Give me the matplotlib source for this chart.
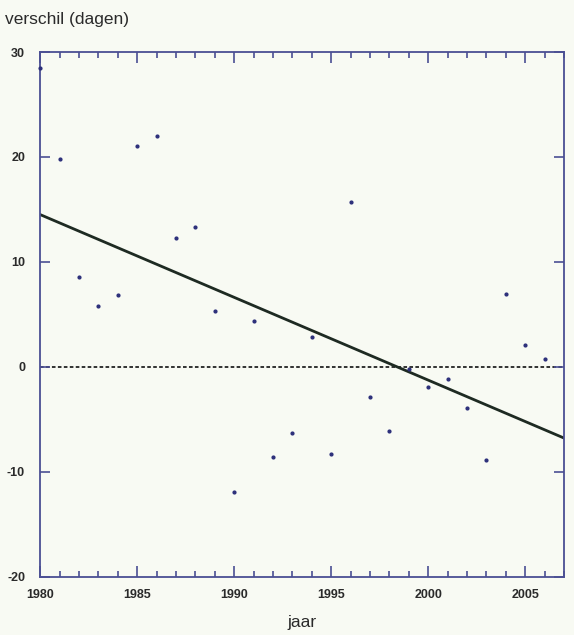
import matplotlib
matplotlib.use("Agg")
import matplotlib.pyplot as plt
from matplotlib.ticker import MultipleLocator

# jaar -> verschil (dagen)
years = [1980, 1981, 1982, 1983, 1984, 1985, 1986, 1987, 1988, 1989,
         1990, 1991, 1992, 1993, 1994, 1995, 1996, 1997, 1998, 1999,
         2000, 2001, 2002, 2003, 2004, 2005, 2006]
diff_days = [28.5, 19.8, 8.6, 5.8, 6.8, 21.0, 22.0, 12.3, 13.3, 5.3,
             -11.9, 4.4, -8.6, -6.3, 2.8, -8.3, 15.7, -2.9, -6.1, -0.2,
             -1.9, -1.2, -3.9, -8.9, 6.9, 2.1, 0.7]

# trendlijn (eindpunten)
trend_years = [1980, 2007]
trend_values = [14.5, -6.8]

bg = "#f8faf3"
axis_col = "#4b4f93"
text_col = "#2a2a2a"

plt.rcParams["font.family"] = ["Liberation Sans", "DejaVu Sans"]
plt.rcParams["axes.unicode_minus"] = False

fig = plt.figure(figsize=(5.74, 6.35), dpi=100, facecolor=bg)
ax = fig.add_axes([0.0702, 0.0921, 0.9124, 0.8259], facecolor=bg)

ax.axhline(0, color="#222222", lw=1.3, ls=(0, (2.0, 1.3)), zorder=1)
ax.plot(trend_years, trend_values, color="#1e2a22", lw=2.0, zorder=2)
ax.scatter(years, diff_days, s=4, color="#2c2f7a", zorder=3, clip_on=False)

ax.set_xlim(1980, 2007)
ax.set_ylim(-20, 30)
ax.xaxis.set_major_locator(MultipleLocator(5))
ax.xaxis.set_minor_locator(MultipleLocator(1))
ax.yaxis.set_major_locator(MultipleLocator(10))

for s in ax.spines.values():
    s.set_color(axis_col)
    s.set_linewidth(1.3)

ax.tick_params(which="both", direction="in", top=True, right=True,
               color=axis_col, width=1.2)
ax.tick_params(which="major", length=8, labelsize=9, labelcolor=text_col, pad=9)
ax.tick_params(which="minor", length=4)
ax.tick_params(axis="y", which="major", length=7, pad=11)
for lab in ax.get_xticklabels() + ax.get_yticklabels():
    lab.set_fontweight("bold")

fig.text(0.009, 0.970, "verschil (dagen)", fontsize=12.5, color=text_col,
         ha="left", va="center")
ax.set_xlabel("jaar", fontsize=12.5, color=text_col, labelpad=10)

fig.savefig("out.png", dpi=100, facecolor=bg)
